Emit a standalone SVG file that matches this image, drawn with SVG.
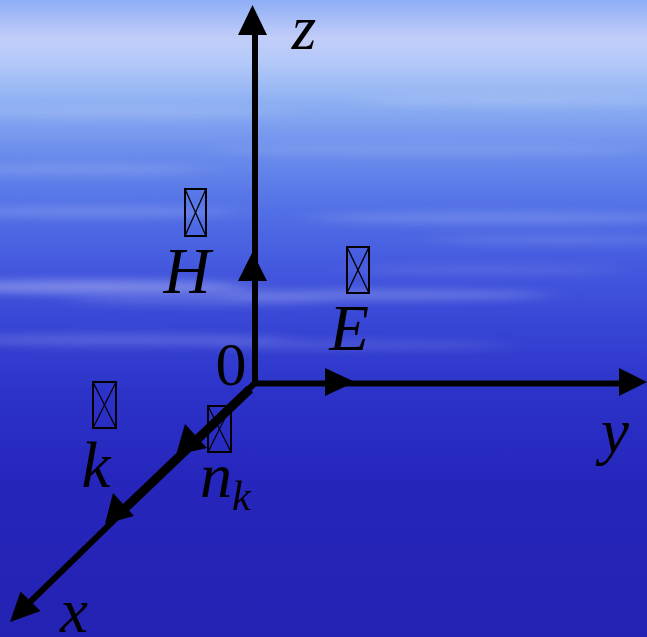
<svg xmlns="http://www.w3.org/2000/svg" width="647" height="637" viewBox="0 0 647 637">
<style>
.lbl{font-family:"Liberation Serif","Times New Roman",serif;font-style:italic;fill:#000;}
.num{font-family:"Liberation Serif","Times New Roman",serif;fill:#000;}
.axis{stroke:#000;stroke-width:6;fill:none;}
.thick{stroke:#000;stroke-width:9;fill:none;}
.head{fill:#000;}
.tofu rect{fill:none;stroke:#000;stroke-width:2;}
.tofu line{stroke:#000;stroke-width:1.3;}
.streak{fill:#e8ecff;}
</style>
<defs>
<linearGradient id="bg" x1="0" y1="0" x2="0" y2="1">
<stop offset="0" stop-color="#8eaef6"/>
<stop offset="0.06" stop-color="#c2cdf8"/>
<stop offset="0.1" stop-color="#b2c8f8"/>
<stop offset="0.16" stop-color="#8eb0f2"/>
<stop offset="0.24" stop-color="#6a8cec"/>
<stop offset="0.33" stop-color="#5270e6"/>
<stop offset="0.42" stop-color="#4458de"/>
<stop offset="0.52" stop-color="#3644d4"/>
<stop offset="0.62" stop-color="#2c32c8"/>
<stop offset="0.75" stop-color="#2626bc"/>
<stop offset="1" stop-color="#2422b2"/>
</linearGradient>
<filter id="blur" x="-30%" y="-300%" width="160%" height="700%">
<feGaussianBlur stdDeviation="18 4"/>
</filter>
</defs>
<rect width="647" height="637" fill="url(#bg)"/>
<g id="streaks" filter="url(#blur)">
<ellipse class="streak" cx="120" cy="112" rx="170" ry="6" opacity="0.14"/>
<ellipse class="streak" cx="520" cy="100" rx="160" ry="6" opacity="0.14"/>
<ellipse class="streak" cx="430" cy="150" rx="220" ry="6" opacity="0.12"/>
<ellipse class="streak" cx="80" cy="170" rx="130" ry="6" opacity="0.14"/>
<ellipse class="streak" cx="90" cy="212" rx="150" ry="6" opacity="0.18"/>
<ellipse class="streak" cx="500" cy="218" rx="190" ry="6" opacity="0.18"/>
<ellipse class="streak" cx="560" cy="240" rx="130" ry="5" opacity="0.12"/>
<ellipse class="streak" cx="90" cy="287" rx="160" ry="7" opacity="0.35"/>
<ellipse class="streak" cx="380" cy="295" rx="170" ry="5" opacity="0.26"/>
<ellipse class="streak" cx="200" cy="300" rx="130" ry="5" opacity="0.16"/>
<ellipse class="streak" cx="120" cy="340" rx="170" ry="6" opacity="0.18"/>
<ellipse class="streak" cx="360" cy="345" rx="150" ry="5" opacity="0.12"/>
<ellipse class="streak" cx="480" cy="270" rx="140" ry="5" opacity="0.1"/>
</g>
<g id="connectors">
<line class="axis" x1="255" y1="386" x2="255" y2="30"/>
<polygon class="head" points="252.5,5 238,35 267,35"/>
<polygon class="head" points="252.5,252 238,281 267,281"/>
<line class="axis" x1="252" y1="383.5" x2="622" y2="383.5"/>
<polygon class="head" points="647,382 619,368 619,396"/>
<polygon class="head" points="355,382 325,368 325,396"/>
<line class="axis" x1="256" y1="382" x2="28" y2="604"/>
<line class="thick" x1="250" y1="389" x2="118" y2="515"/>
<polygon class="head" points="10,622 20.5,591.5 40.5,611"/>
<polygon class="head" points="176,455 185,424 207,448"/>
<polygon class="head" points="105,524 113,493 134,516"/>
</g>
<g id="node-z"><text class="lbl" x="304" y="49" font-size="63" text-anchor="middle">z</text></g>
<g id="node-y"><text class="lbl" x="615" y="452" font-size="63" text-anchor="middle">y</text></g>
<g id="node-x"><text class="lbl" x="74" y="632" font-size="63" text-anchor="middle">x</text></g>
<g id="node-origin"><text class="num" x="231" y="385" font-size="62" text-anchor="middle">0</text></g>
<g id="node-H">
<g class="tofu"><rect x="185" y="189" width="21" height="47"/><line x1="185" y1="189" x2="206" y2="236"/><line x1="206" y1="189" x2="185" y2="236"/></g>
<text class="lbl" x="187" y="293" font-size="65" text-anchor="middle">H</text>
</g>
<g id="node-E">
<g class="tofu"><rect x="347" y="247" width="22" height="46"/><line x1="347" y1="247" x2="369" y2="293"/><line x1="369" y1="247" x2="347" y2="293"/></g>
<text class="lbl" x="349" y="350" font-size="65" text-anchor="middle">E</text>
</g>
<g id="node-k">
<g class="tofu"><rect x="93" y="382" width="23" height="46"/><line x1="93" y1="382" x2="116" y2="428"/><line x1="116" y1="382" x2="93" y2="428"/></g>
<text class="lbl" x="96" y="487" font-size="65" text-anchor="middle">k</text>
</g>
<g id="node-nk">
<g class="tofu"><rect x="208" y="406" width="23" height="46"/><line x1="208" y1="406" x2="231" y2="452"/><line x1="231" y1="406" x2="208" y2="452"/></g>
<text class="lbl" x="200" y="497" font-size="64">n<tspan font-size="42" y="510">k</tspan></text>
</g>
</svg>
